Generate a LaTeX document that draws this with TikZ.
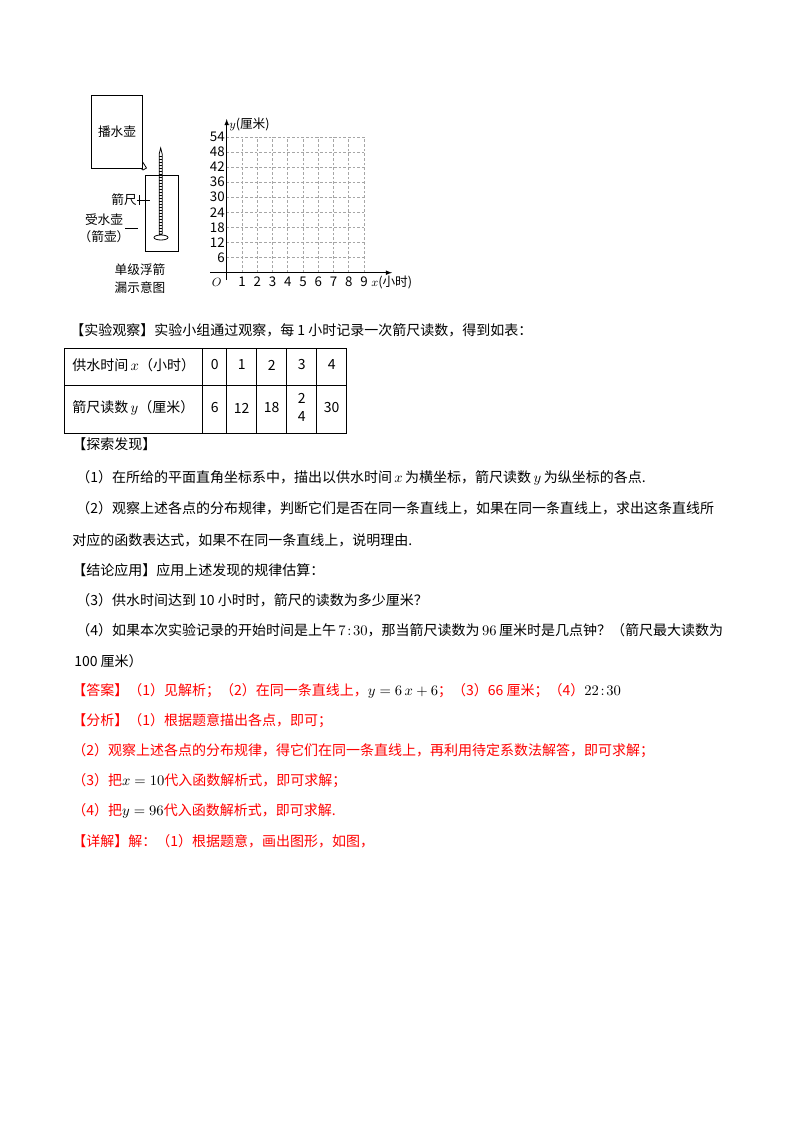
\documentclass[tikz,border=0pt]{standalone}
\usepackage{fontspec}
\usepackage{amsmath}
\setmainfont{Noto Sans CJK SC}
\begin{document}
\begin{tikzpicture}[x=0.75pt,y=-0.75pt,
  txt/.style={anchor=west,inner sep=0pt,font=\fontsize{10.5}{12}\selectfont},
  rtxt/.style={txt,text=red},
  sm/.style={inner sep=0pt,font=\fontsize{9.5}{11}\selectfont},
  grid/.style={gray!70,dash pattern=on 2pt off 1.5pt,line width=0.4pt},
  ln/.style={line width=0.6pt}]
\path[use as bounding box,fill=white] (0,0) rectangle (800,1132);
% left apparatus
\draw[ln] (91.7,95) rectangle (142.7,168.3);
\node[sm] (bsh) at (117,132) {播水壶};
\draw[ln] (142.7,162) -- (146.5,168) -- (143,170) -- (141,168.3);
\draw[ln] (145,175) rectangle (178.3,251.7);
\draw[ln] (159.2,154) -- (160.7,148) -- (162.2,154) -- (162.2,234) -- (159.2,234) -- cycle;
\foreach \k in {0,...,26} \draw[line width=0.4pt] (159.2,156+3*\k) -- (162.2,156+3*\k);
\draw[ln] (161,237.5) ellipse (7 and 2.5);
\node[sm,anchor=east] (jc) at (137,200) {箭尺};
\draw[ln] (jc.east) -- (150,200);
\draw[ln] (139,195) -- (139,205);
\node[sm] (ss) at (104,220) {受水壶};
\node[sm] (jh) at (104,237) {（箭壶）};
\draw[ln] (125,228) -- (138,228);
\node[sm] (c1) at (140,270) {单级浮箭};
\node[sm] (c2) at (140,288) {漏示意图};
% graph
\foreach \i in {1,...,9} \draw[grid] (226.7+15.25*\i,272.7) -- (226.7+15.25*\i,136.7);
\foreach \j in {1,...,9} \draw[grid] (226.7,272.7-15.1*\j) -- (364,272.7-15.1*\j);
\coordinate (o) at (226.7,272.7);
\coordinate (xe) at (392,272.7);
\coordinate (ye) at (226.7,119);
\draw[ln,-latex] (210,272.7) -- (xe);
\draw[ln,-latex] (226.7,280) -- (ye);
\foreach \i in {1,...,9} \node[sm,font=\fontsize{10}{11}\selectfont] at (226.7+15.25*\i,282) {\i};
\foreach \j/\v in {1/6,2/12,3/18,4/24,5/30,6/36,7/42,8/48,9/54} \node[sm,anchor=east,font=\fontsize{10}{11}\selectfont] at (225,272.7-15.1*\j) {\v};
\node[sm] (O) at (216.7,282) {$O$};
\node[sm,anchor=west] (xl) at (371,282.5) {$x$(小时)};
\node[sm,anchor=west] (yl) at (229,124) {$y$(厘米)};
% text
\node[txt] at (70,330) {【实验观察】实验小组通过观察，每 1 小时记录一次箭尺读数，得到如表：};
% table
\draw[ln] (64,348.3) rectangle (346.7,433);
\draw[ln] (64,385) -- (346.7,385);
\foreach \c in {202.7,226.7,256.7,286.7,316.7} \draw[ln] (\c,348.3) -- (\c,433);
\node[txt] at (72,365) {供水时间$\,x$（小时）};
\node[txt] at (72,408) {箭尺读数$\,y$（厘米）};
\foreach \c/\a/\b in {214.7/0/6,241.7/1/12,271.7/2/18,331.7/4/30}{
  \node[sm,font=\fontsize{10.5}{12}\selectfont] at (\c,365) {\a};
  \node[sm,font=\fontsize{10.5}{12}\selectfont] at (\c,408) {\b};}
\node[sm,font=\fontsize{10.5}{12}\selectfont] at (301.7,365) {3};
\node[sm,font=\fontsize{10.5}{12}\selectfont] at (301.7,398) {2};
\node[sm,font=\fontsize{10.5}{12}\selectfont] at (301.7,417) {4};
\node[txt] at (72,444) {【探索发现】};
\node[txt] at (76,478) {（1）在所给的平面直角坐标系中，描出以供水时间$\,x\,$为横坐标，箭尺读数$\,y\,$为纵坐标的各点.};
\node[txt] at (76,508) {（2）观察上述各点的分布规律，判断它们是否在同一条直线上，如果在同一条直线上，求出这条直线所};
\node[txt] at (72,540) {对应的函数表达式，如果不在同一条直线上，说明理由.};
\node[txt] at (72,570) {【结论应用】应用上述发现的规律估算：};
\node[txt] at (76,600) {（3）供水时间达到 10 小时时，箭尺的读数为多少厘米？};
\node[txt] at (76,630) {（4）如果本次实验记录的开始时间是上午$\,7\!:\!30$，那当箭尺读数为$\,96\,$厘米时是几点钟？（箭尺最大读数为};
\node[txt] at (74,661) {100 厘米）};
\node[rtxt] at (72,691) {【答案】（1）见解析；（2）在同一条直线上，\textcolor{black}{$y=6\,x+6$}；（3）66 厘米；（4）\textcolor{black}{$22\!:\!30$}};
\node[rtxt] at (72,721) {【分析】（1）根据题意描出各点，即可；};
\node[rtxt] at (72,751) {（2）观察上述各点的分布规律，得它们在同一条直线上，再利用待定系数法解答，即可求解；};
\node[rtxt] at (72,781) {（3）把\textcolor{black}{$x=10$}代入函数解析式，即可求解；};
\node[rtxt] at (72,811) {（4）把\textcolor{black}{$y=96$}代入函数解析式，即可求解.};
\node[rtxt] at (72,841) {【详解】解：（1）根据题意，画出图形，如图，};
\end{tikzpicture}
\end{document}
